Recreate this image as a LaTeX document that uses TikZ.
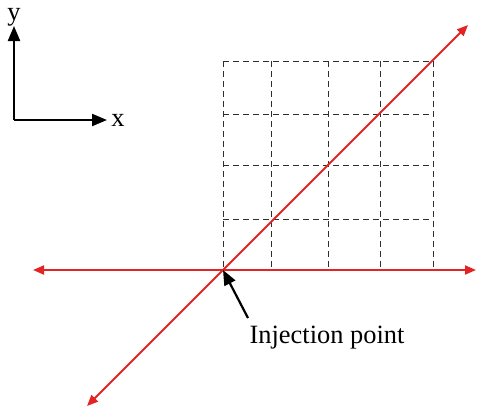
\documentclass[tikz,border=0pt]{standalone}
\usepackage{fontspec}
\setmainfont{Liberation Serif}
\usepackage{xcolor}
\usetikzlibrary{arrows.meta}
\definecolor{rayred}{HTML}{E32424}
\definecolor{gridgrey}{HTML}{2E2E2E}

\begin{document}
\begin{tikzpicture}[x=1bp, y=-1bp,
    ray/.style={draw=rayred, line width=2bp,
                {Triangle[length=11bp,width=9bp]}-{Triangle[length=11bp,width=9bp]}},
    gridline/.style={draw=gridgrey, line width=1bp, dash pattern=on 6bp off 4bp},
    axis/.style={line width=2.2bp, -{Triangle[length=15bp,width=12bp]}},
    label/.style={font=\fontsize{26.5}{30}\selectfont, inner sep=0pt, anchor=base}]
    \useasboundingbox (0,0) rectangle (477,414);

    % dashed grid
    \foreach \gx in {223,271,328,380,433}
      \draw[gridline] (\gx,61) -- (\gx,270);
    \foreach \gy in {61,114,165,219}
      \draw[gridline] (223,\gy) -- (433,\gy);

    % rays through the injection point
    \coordinate (inj) at (223,270);
    \coordinate (west) at (33,270);
    \coordinate (east) at (476,270);
    \coordinate (ne) at (468,25);
    \coordinate (sw) at (87,406);
    \draw[ray] (west) -- (east);
    \draw[ray] (sw) -- (ne);

    % axes
    \coordinate (origin) at (14,120);
    \coordinate (ytip) at (14,26);
    \coordinate (xtip) at (107,120);
    \draw[axis] (origin) -- (ytip);
    \draw[axis] (origin) -- (xtip);
    \node[label] (ylab) at (14,20) {y};
    \node[label] (xlab) at (118,126) {x};

    % label
    \node[label] (injlab) at (327,343) {Injection point};
    \coordinate (injtail) at (248,318);
    \draw[line width=2.2bp, -{Triangle[length=15bp,width=12bp]}] (injtail) -- (inj);
\end{tikzpicture}
\end{document}
